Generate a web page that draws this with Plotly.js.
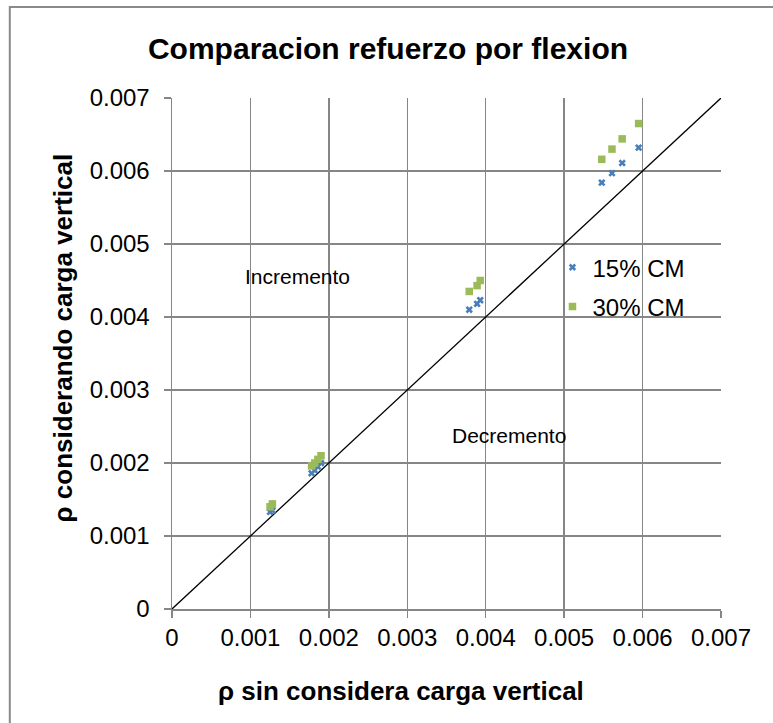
<!DOCTYPE html>
<html>
<head>
<meta charset="utf-8">
<script src="https://cdn.plot.ly/plotly-3.0.1.min.js"></script>
<style>html,body{margin:0;padding:0;background:#fff;}#chart{width:773px;height:723px;}</style>
</head>
<body>
<div id="chart"></div>
<script>
const xValues = [0.00125, 0.00128, 0.00178, 0.00182, 0.00186, 0.0019, 0.00379, 0.00389, 0.00393, 0.00548, 0.00561, 0.00574, 0.00595];
const cm15 = [0.00133, 0.00135, 0.00186, 0.0019, 0.00195, 0.002, 0.0041, 0.00418, 0.00423, 0.00584, 0.00597, 0.00611, 0.00632];
const cm30 = [0.0014, 0.00144, 0.00196, 0.002, 0.00205, 0.0021, 0.00435, 0.00443, 0.0045, 0.00616, 0.0063, 0.00644, 0.00665];
const lineX = [0, 0.007];
const lineY = [0, 0.007];
const tickVals = [0, 0.001, 0.002, 0.003, 0.004, 0.005, 0.006, 0.007];
const tickText = ['0', '0.001', '0.002', '0.003', '0.004', '0.005', '0.006', '0.007'];
const xTitle = 'ρ sin considera carga vertical';
const yTitle = 'ρ considerando carga vertical';

const font = 'Liberation Sans, Arial, sans-serif';
const gridColor = '#868686';
const W = 550, H = 511.5, L = 171.5, T = 98;
const px = v => (v - L) / W;
const py = v => (T + H - v) / H;

const traces = [
  {x: lineX, y: lineY, mode: 'lines', line: {color: '#000', width: 1.3}, showlegend: false, hoverinfo: 'skip'},
  {x: xValues, y: cm15, mode: 'markers', name: '15% CM', legendgroup: 'a',
   marker: {symbol: 'x', size: 6.5, color: '#4a7ebb', line: {width: 0}}},
  {x: xValues, y: cm30, mode: 'markers', name: '30% CM', legendgroup: 'b',
   marker: {symbol: 'square', size: 7.5, color: '#9bbb59', line: {width: 0}}}
];

const layout = {
  width: 773, height: 723,
  margin: {l: 171.5, r: 51.5, t: 98, b: 113.5},
  paper_bgcolor: '#fff', plot_bgcolor: '#fff',
  font: {family: font, size: 24, color: '#000'},
  title: {text: '<b>Comparacion refuerzo por flexion</b>', font: {family: font, size: 30, color: '#000'},
          x: 388 / 773, xanchor: 'center', y: 1 - 48 / 723, yanchor: 'middle'},
  xaxis: {range: [0, 0.007], tickvals: tickVals, ticktext: tickText,
          showgrid: true, gridcolor: gridColor, gridwidth: 1.5,
          showline: true, linecolor: gridColor, linewidth: 1.5, mirror: false,
          ticks: 'outside', ticklen: 7, tickcolor: gridColor, tickwidth: 1.5,
          zeroline: false, tickfont: {size: 24}, ticklabelstandoff: 0},
  yaxis: {range: [0, 0.007], tickvals: tickVals, ticktext: tickText,
          showgrid: true, gridcolor: gridColor, gridwidth: 1.5,
          showline: true, linecolor: gridColor, linewidth: 1.5,
          ticks: 'outside', ticklen: 7, tickcolor: gridColor, tickwidth: 1.5,
          zeroline: false, tickfont: {size: 24}, ticklabelstandoff: 9},
  legend: {x: 0.693, y: 0.712, xanchor: 'left', yanchor: 'top', bgcolor: 'rgba(0,0,0,0)',
           font: {size: 24}, itemwidth: 30, tracegroupgap: 5},
  annotations: [
    {x: 0.0016, y: 0.00455, xref: 'x', yref: 'y', text: 'Incremento', showarrow: false, font: {size: 21}},
    {x: 0.0043, y: 0.00238, xref: 'x', yref: 'y', text: 'Decremento', showarrow: false, font: {size: 21}},
    {x: px(401), y: py(692), xref: 'paper', yref: 'paper', text: '<b>' + xTitle + '</b>',
     showarrow: false, font: {size: 26}, xanchor: 'center', yanchor: 'middle'},
    {x: px(62), y: py(338), xref: 'paper', yref: 'paper', text: '<b>' + yTitle + '</b>', textangle: -90,
     showarrow: false, font: {size: 26}, xanchor: 'center', yanchor: 'middle'}
  ],
  shapes: [
    {type: 'rect', xref: 'paper', yref: 'paper',
     x0: px(9), x1: px(800), y0: py(760), y1: py(7),
     line: {color: '#8a8a8a', width: 2}, layer: 'below'}
  ],
  showlegend: true
};

Plotly.newPlot('chart', traces, layout, {displayModeBar: false, staticPlot: true});
</script>
</body>
</html>
